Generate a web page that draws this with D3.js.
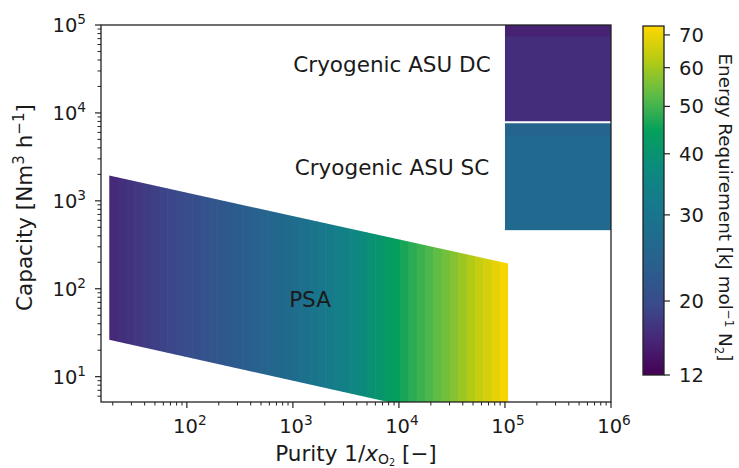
<!DOCTYPE html>
<html>
<head>
<meta charset="utf-8">
<script src="https://cdn.jsdelivr.net/npm/d3@7"></script>
<style>
  html, body { margin: 0; padding: 0; background: #fff; }
  svg { display: block; font-family: "DejaVu Sans", sans-serif; }
</style>
</head>
<body>
<svg id="chart" width="739" height="468"></svg>
<script>
// ---- data ----
// Axis ticks
const purityTicks = [1e2, 1e3, 1e4, 1e5, 1e6];
const capacityTicks = [1e1, 1e2, 1e3, 1e4, 1e5];
const energyTicks = [12, 20, 30, 40, 50, 60, 70];

// PSA operating window: capacity limits at the ends of its purity range
const psaPurityRange = [18.5, 1.07e5];
const psaCapacityMax = [1940, 194];
const psaCapacityMin = [26.3, 2.56];

// PSA energy requirement, one value per purity column (column edges listed)
const psaPurityEdges = [18.5, 22.2, 26.5, 31.8, 38.1, 45.6, 54.6, 65.4, 78.4, 93.9,
  112, 135, 161, 193, 231, 277, 332, 398, 477, 571, 684, 819, 981, 1175, 1408,
  1686, 2020, 2418, 2897, 3470, 4156, 4977, 5962, 7141, 8553, 10245, 12270,
  14700, 17605, 21090, 25260, 30260, 36240, 43410, 52000, 62280, 74600, 89350, 107000];
const psaEnergy = [15.7, 16.2, 16.7, 17.2, 17.7, 18.1, 18.6, 19.1, 19.6, 20.1,
  20.5, 21.0, 21.5, 22.0, 22.4, 22.9, 23.5, 24.1, 24.7, 25.4, 26.0, 26.6, 27.4,
  28.5, 29.6, 30.7, 31.8, 32.9, 34.0, 35.7, 37.5, 39.2, 40.9, 42.6, 44.3, 46.1,
  47.8, 49.5, 51.2, 53.0, 54.7, 56.6, 59.1, 61.6, 64.1, 66.6, 69.2, 71.7];

// Cryogenic air separation units
const asuPurityRange = [1e5, 1e6];
const asuDCCapacityEdges = [8000, 75000, 100000];
const asuDCEnergy = [16.0, 14.8];
const asuSCCapacityEdges = [470, 5500, 8000];
const asuSCEnergy = [26.4, 25.0];

const labels = [
  { text: "Cryogenic ASU DC", purity: 8600, capacity: 29500 },
  { text: "Cryogenic ASU SC", purity: 8600, capacity: 1980 },
  { text: "PSA", purity: 1450, capacity: 62 }
];

// ---- layout ----
const W = 739, H = 468;
const plot = { left: 101, right: 611, top: 25, bottom: 402 };
const cbar = { left: 643, right: 664, top: 26, bottom: 375 };
const tickFont = 19.5;
const labelFont = 21.5;
const cbTitleFont = 18.3;

const svg = d3.select("#chart");
svg.append("rect").attr("width", W).attr("height", H).attr("fill", "#fff");

const x = d3.scaleLog().domain([15.5, 1e6]).range([plot.left, plot.right]);
const y = d3.scaleLog().domain([5.15, 1e5]).range([plot.bottom, plot.top]);

// colour map (viridis-like, as printed)
const cmapStops = ["#440154", "#472677", "#3a4a8b", "#2b5d8d", "#1f6c8e", "#157b8b",
  "#0b8c7c", "#05a05c", "#5cbb48", "#b4cb14", "#ffd600"];
const cmap = d3.piecewise(d3.interpolateRgb, cmapStops);
// energy normalisation used by the colour bar
const energyNorm = d3.scaleLog().domain([12, 20, 73]).range([0, 0.212, 1]);
const colorOf = e => cmap(energyNorm(e));

const defs = svg.append("defs");
defs.append("clipPath").attr("id", "plotClip")
  .append("rect")
  .attr("x", plot.left).attr("y", plot.top)
  .attr("width", plot.right - plot.left).attr("height", plot.bottom - plot.top);

// PSA window polygon
const psaPoly = [
  [x(psaPurityRange[0]), y(psaCapacityMax[0])],
  [x(psaPurityRange[1]), y(psaCapacityMax[1])],
  [x(psaPurityRange[1]), y(psaCapacityMin[1])],
  [x(psaPurityRange[0]), y(psaCapacityMin[0])]
];
defs.append("clipPath").attr("id", "psaClip")
  .append("path").attr("d", "M" + psaPoly.map(p => p.join(",")).join("L") + "Z");

const gPlot = svg.append("g").attr("clip-path", "url(#plotClip)");
const gPsa = gPlot.append("g").attr("clip-path", "url(#psaClip)");
gPsa.selectAll("rect")
  .data(psaEnergy)
  .join("rect")
  .attr("x", (d, i) => x(psaPurityEdges[i]))
  .attr("width", (d, i) => x(psaPurityEdges[i + 1]) - x(psaPurityEdges[i]) + 0.6)
  .attr("y", plot.top)
  .attr("height", plot.bottom - plot.top)
  .attr("fill", d => colorOf(d));

// ASU blocks
function asuBlock(edges, energies) {
  const g = gPlot.append("g");
  g.selectAll("rect")
    .data(energies)
    .join("rect")
    .attr("x", x(asuPurityRange[0]))
    .attr("width", x(asuPurityRange[1]) - x(asuPurityRange[0]))
    .attr("y", (d, i) => y(edges[i + 1]))
    .attr("height", (d, i) => y(edges[i]) - y(edges[i + 1]) + 0.5)
    .attr("fill", d => colorOf(d));
  return g;
}
asuBlock(asuSCCapacityEdges, asuSCEnergy);
asuBlock(asuDCCapacityEdges, asuDCEnergy);
// white seam between the two ASU blocks
gPlot.append("line")
  .attr("x1", x(asuPurityRange[0])).attr("x2", x(asuPurityRange[1]))
  .attr("y1", y(asuDCCapacityEdges[0]) + 0.8).attr("y2", y(asuDCCapacityEdges[0]) + 0.8)
  .attr("stroke", "#fff").attr("stroke-width", 2);

// region labels
svg.selectAll("text.region")
  .data(labels)
  .join("text")
  .attr("class", "region")
  .attr("x", d => x(d.purity))
  .attr("y", d => y(d.capacity))
  .attr("text-anchor", "middle")
  .attr("font-size", labelFont)
  .attr("fill", "#1a1a1a")
  .text(d => d.text);

// ---- axes ----
function powerLabel(sel, exp) {
  sel.append("tspan").text("10");
  sel.append("tspan").attr("dy", -8).attr("font-size", tickFont * 0.7).text(exp);
}
const minorTicks = (lo, hi) => {
  const out = [];
  for (let p = Math.floor(Math.log10(lo)); p <= Math.ceil(Math.log10(hi)); p++) {
    for (let m = 1; m < 10; m++) {
      const v = m * Math.pow(10, p);
      if (v >= lo && v <= hi && m !== 1) out.push(v);
    }
  }
  return out;
};

const axisG = svg.append("g").attr("stroke", "#222");
// x ticks
axisG.selectAll("line.xmaj").data(purityTicks).join("line")
  .attr("x1", d => x(d)).attr("x2", d => x(d))
  .attr("y1", plot.bottom).attr("y2", plot.bottom + 6).attr("stroke-width", 1.2);
axisG.selectAll("line.xmin").data(minorTicks(...x.domain())).join("line")
  .attr("x1", d => x(d)).attr("x2", d => x(d))
  .attr("y1", plot.bottom).attr("y2", plot.bottom + 3.5).attr("stroke-width", 1);
// y ticks
axisG.selectAll("line.ymaj").data(capacityTicks).join("line")
  .attr("x1", plot.left - 6).attr("x2", plot.left)
  .attr("y1", d => y(d)).attr("y2", d => y(d)).attr("stroke-width", 1.2);
axisG.selectAll("line.ymin").data(minorTicks(...y.domain())).join("line")
  .attr("x1", plot.left - 3.5).attr("x2", plot.left)
  .attr("y1", d => y(d)).attr("y2", d => y(d)).attr("stroke-width", 1);

svg.selectAll("text.xt").data(purityTicks).join("text")
  .attr("class", "xt")
  .attr("x", d => x(d) + 3)
  .attr("y", 433)
  .attr("text-anchor", "middle")
  .attr("font-size", tickFont)
  .attr("fill", "#1a1a1a")
  .each(function (d) { powerLabel(d3.select(this), Math.round(Math.log10(d))); });

svg.selectAll("text.yt").data(capacityTicks).join("text")
  .attr("class", "yt")
  .attr("x", 86)
  .attr("y", d => y(d) + 7)
  .attr("text-anchor", "end")
  .attr("font-size", tickFont)
  .attr("fill", "#1a1a1a")
  .each(function (d) { powerLabel(d3.select(this), Math.round(Math.log10(d))); });

// frame
svg.append("rect")
  .attr("x", plot.left).attr("y", plot.top)
  .attr("width", plot.right - plot.left).attr("height", plot.bottom - plot.top)
  .attr("fill", "none").attr("stroke", "#222").attr("stroke-width", 1.3);

// axis titles
const xTitle = svg.append("text")
  .attr("x", (plot.left + plot.right) / 2).attr("y", 461)
  .attr("text-anchor", "middle").attr("font-size", labelFont).attr("fill", "#1a1a1a");
xTitle.append("tspan").text("Purity 1/");
xTitle.append("tspan").attr("font-style", "italic").text("x");
xTitle.append("tspan").attr("dy", 3).attr("font-size", labelFont * 0.65).text("O");
xTitle.append("tspan").attr("dy", 2).attr("font-size", labelFont * 0.45).text("2");
xTitle.append("tspan").attr("dy", -5).text(" [\u2212]");

const yTitle = svg.append("text")
  .attr("transform", `translate(32,${(plot.top + plot.bottom) / 2 - 6}) rotate(-90)`)
  .attr("text-anchor", "middle").attr("font-size", labelFont).attr("fill", "#1a1a1a");
yTitle.append("tspan").text("Capacity [Nm");
yTitle.append("tspan").attr("dy", -8).attr("font-size", labelFont * 0.7).text("3");
yTitle.append("tspan").attr("dy", 8).text(" h");
yTitle.append("tspan").attr("dy", -8).attr("font-size", labelFont * 0.7).text("\u22121");
yTitle.append("tspan").attr("dy", 8).text("]");

// ---- colour bar ----
const cy = d3.scaleLog().domain(energyNorm.domain())
  .range(energyNorm.range().map(t => cbar.bottom - t * (cbar.bottom - cbar.top)));
const grad = defs.append("linearGradient").attr("id", "cbGrad")
  .attr("x1", 0).attr("x2", 0).attr("y1", 1).attr("y2", 0);
grad.selectAll("stop").data(cmapStops).join("stop")
  .attr("offset", (d, i) => i / (cmapStops.length - 1))
  .attr("stop-color", d => d);
svg.append("rect")
  .attr("x", cbar.left).attr("y", cbar.top)
  .attr("width", cbar.right - cbar.left).attr("height", cbar.bottom - cbar.top)
  .attr("fill", "url(#cbGrad)").attr("stroke", "#222").attr("stroke-width", 1.3);
svg.selectAll("line.cbt").data(energyTicks).join("line")
  .attr("x1", cbar.right).attr("x2", cbar.right + 6)
  .attr("y1", d => cy(d)).attr("y2", d => cy(d))
  .attr("stroke", "#222").attr("stroke-width", 1.2);
svg.selectAll("text.cbt").data(energyTicks).join("text")
  .attr("class", "cbt")
  .attr("x", cbar.right + 15).attr("y", d => cy(d) + 7)
  .attr("font-size", tickFont).attr("fill", "#1a1a1a")
  .text(d => d);

const cTitle = svg.append("text")
  .attr("transform", `translate(719,${(cbar.top + cbar.bottom) / 2 + 7}) rotate(90)`)
  .attr("text-anchor", "middle").attr("font-size", cbTitleFont).attr("fill", "#1a1a1a");
cTitle.append("tspan").text("Energy Requirement [kJ mol");
cTitle.append("tspan").attr("dy", -6).attr("font-size", cbTitleFont * 0.65).text("\u22121");
cTitle.append("tspan").attr("dy", 6).text(" N");
cTitle.append("tspan").attr("dy", 4).attr("font-size", cbTitleFont * 0.65).text("2");
cTitle.append("tspan").attr("dy", -4).text("]");
</script>
</body>
</html>
